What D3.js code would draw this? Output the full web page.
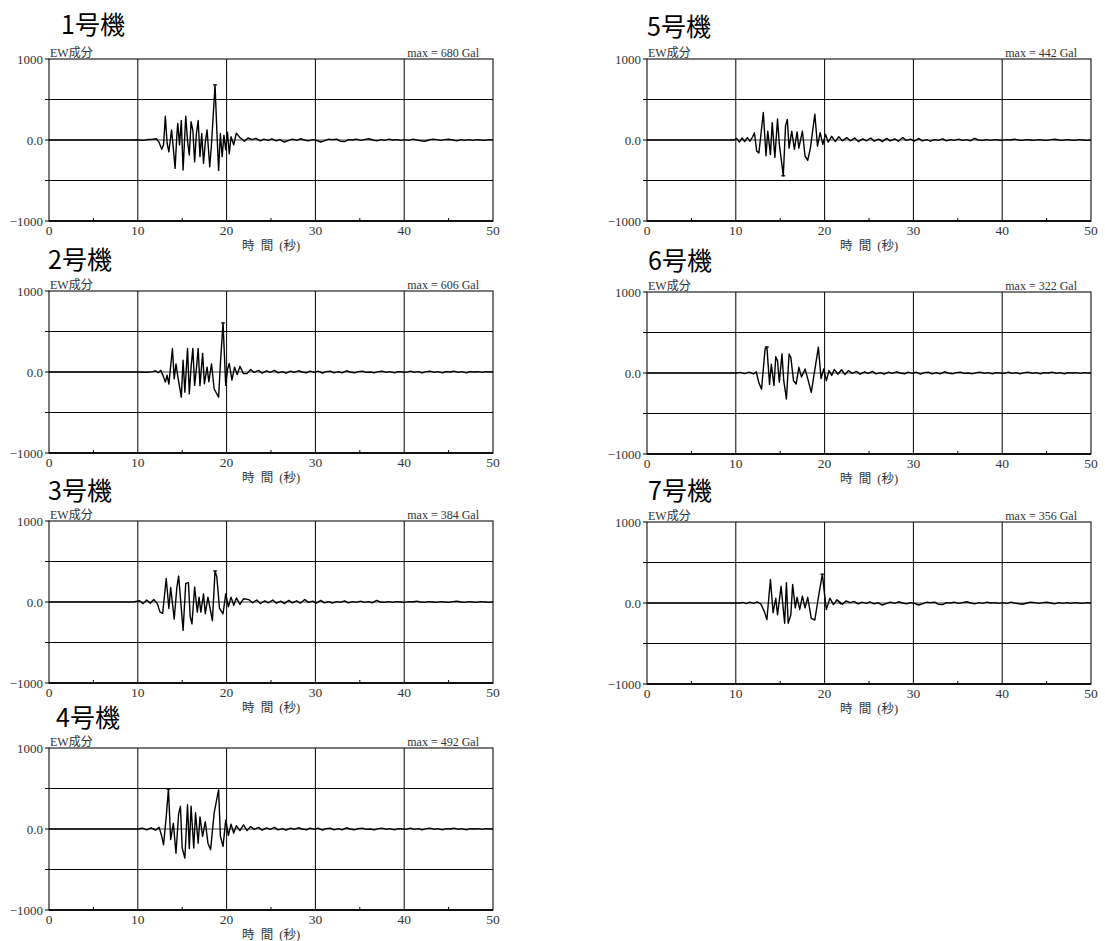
<!DOCTYPE html>
<html><head><meta charset="utf-8">
<script src="https://cdn.jsdelivr.net/npm/d3@7"></script>
<style>
body{margin:0;background:#fff;}
svg{display:block;}
</style></head>
<body><svg id="c" width="1105" height="941"></svg>
<script>
// ---- data ----
const units = ["1号機","2号機","3号機","4号機","5号機","6号機","7号機"];
const maxGal = [680, 606, 384, 492, 442, 322, 356];
const component = "EW成分";
const xTicks = [0, 10, 20, 30, 40, 50];
const xMinorTicks = [5, 15, 25, 35, 45];
const yTicks = [1000, 0, -1000];
const yTickLabels = ["1000", "0.0", "−1000"];
const yGrid = [500, 0, -500];
const xLabel = "時 間 (秒)";

const tailA = [[21.5,30],[22,-15],[22.4,25],[22.9,5],[23.3,20],[23.8,-10],[24.2,10],[24.7,-5],[25.1,15],[25.6,-10],[26,5],[26.5,-25],[27,-5],[27.4,10],[27.9,-5],[28.3,15],[28.8,0],[29.2,-10],[29.7,5],[30.1,-5],[30.6,-25],[31,-10],[31.5,10],[31.9,5],[32.4,10],[32.8,-15],[33.3,-20],[33.7,5],[34.2,0],[34.6,10],[35.1,-5],[35.5,5],[36,15],[36.5,0],[36.9,-10],[37.4,5],[37.8,-5],[38.3,10],[38.7,0],[39.2,5],[39.6,-5],[40.1,5],[40.5,-5],[41,10],[41.4,0],[41.9,-10],[42.3,-15],[42.8,0],[43.2,10],[43.7,5],[44.1,-5],[44.6,5],[45,10],[45.5,0],[45.9,-10],[46.4,5],[46.8,-5],[47.3,5],[47.7,-5],[48.2,5],[48.6,0],[49.1,-5],[49.5,5],[50,0]];
const tailB = [[22.3,-20],[22.7,30],[23.1,-5],[23.6,20],[24,-15],[24.5,15],[24.9,-5],[25.4,20],[25.8,-10],[26.3,5],[26.7,-15],[27.2,10],[27.6,-5],[28.1,15],[28.5,0],[29,-10],[29.4,10],[29.9,-5],[30.3,10],[30.8,-15],[31.2,5],[31.7,10],[32.1,-10],[32.6,5],[33,-10],[33.5,15],[33.9,0],[34.4,-10],[34.8,5],[35.3,10],[35.7,-5],[36.2,0],[36.6,-10],[37.1,5],[37.5,10],[38,-5],[38.4,5],[38.9,-10],[39.3,5],[39.8,0],[40.2,-5],[40.7,10],[41.1,-5],[41.6,5],[42,-10],[42.5,5],[42.9,10],[43.4,-5],[43.8,5],[44.3,-10],[44.7,5],[45.2,0],[45.6,10],[46.1,-5],[46.5,5],[47,-10],[47.4,5],[47.9,0],[48.3,5],[48.8,-5],[49.2,5],[49.7,0],[50,0]];
const tailC = [[22.5,30],[22.9,-10],[23.4,25],[23.8,-20],[24.3,15],[24.7,-10],[25.2,25],[25.6,-15],[26.1,10],[26.5,-20],[27,20],[27.4,-10],[27.9,15],[28.3,-15],[28.8,30],[29.2,-5],[29.7,10],[30.1,-15],[30.6,20],[31,-10],[31.5,5],[31.9,-15],[32.4,5],[32.8,-5],[33.3,15],[33.7,-10],[34.2,5],[34.6,-5],[35.1,10],[35.5,-5],[36,5],[36.4,-10],[36.9,20],[37.3,0],[37.8,-5],[38.2,5],[38.7,-5],[39.1,5],[39.6,0],[40,-5],[40.5,5],[40.9,0],[41.4,10],[41.8,0],[42.3,-5],[42.7,5],[43.2,0],[43.6,-5],[44.1,5],[44.5,0],[45,-5],[45.5,5],[45.9,10],[46.4,0],[46.8,-5],[47.3,5],[47.7,0],[48.2,-5],[48.6,5],[49.1,0],[49.5,-5],[50,0]];

const wave1 = [[0,0],[9.5,0],[10,3],[10.6,-4],[11.2,6],[11.7,10],[12.1,15],[12.4,-30],[12.7,-115],[12.9,-60],[13.1,295],[13.3,-40],[13.5,-145],[13.8,125],[14.0,-100],[14.2,-350],[14.4,60],[14.5,205],[14.7,-60],[14.9,240],[15.1,-370],[15.4,295],[15.6,-10],[15.8,-185],[16.0,225],[16.2,120],[16.4,-270],[16.6,80],[16.8,240],[17.0,-205],[17.2,80],[17.4,-290],[17.6,-30],[17.8,125],[18.1,-330],[18.3,-50],[18.7,680],[18.9,120],[19.1,-375],[19.3,80],[19.5,-205],[19.7,60],[19.9,-120],[20.1,95],[20.3,-170],[20.5,40],[20.8,-60],[21.1,85]].concat(tailA);
const wave2 = [[0,0],[10,0],[11,-3],[11.7,5],[12.0,15],[12.3,-10],[12.6,20],[12.9,-60],[13.1,-125],[13.3,-40],[13.5,-150],[13.9,290],[14.1,-85],[14.3,100],[14.5,-50],[14.9,-310],[15.1,145],[15.3,-250],[15.6,290],[15.8,-270],[16.0,60],[16.2,290],[16.4,-165],[16.6,40],[16.8,290],[17.0,-170],[17.3,230],[17.5,-145],[17.8,60],[18.0,-120],[18.3,100],[18.6,-210],[19.1,-310],[19.3,100],[19.6,606],[19.9,-165],[20.1,30],[20.3,105],[20.6,-100],[20.9,60],[21.2,-30],[21.5,70],[21.9,-20]].concat(tailB);
const wave3 = [[0,0],[9.5,0],[10.2,15],[10.6,-20],[11.0,25],[11.4,-15],[11.8,30],[12.2,-20],[12.5,-125],[12.8,-140],[13.2,290],[13.5,-80],[13.7,180],[14.1,-210],[14.4,180],[14.6,320],[15.1,-350],[15.4,230],[15.7,240],[15.9,-180],[16.1,-270],[16.4,185],[16.7,-125],[16.9,60],[17.1,-125],[17.4,100],[17.6,-145],[17.9,60],[18.4,-230],[18.7,384],[18.9,310],[19.2,-80],[19.6,-145],[19.9,100],[20.2,-60],[20.5,60],[20.8,-40],[21.1,50],[21.5,-30],[21.9,40]].concat(tailC);
const wave4 = [[0,0],[10,0],[10.5,10],[11,-10],[11.5,15],[12,-15],[12.4,20],[12.7,-90],[12.9,-195],[13.2,150],[13.45,492],[13.7,-130],[14.0,70],[14.3,-300],[14.6,190],[14.8,280],[15.0,-235],[15.3,-360],[15.6,300],[15.8,-240],[16.0,280],[16.3,-235],[16.5,200],[16.8,-175],[17.0,150],[17.3,-90],[17.6,90],[17.9,-175],[18.2,-255],[18.6,200],[19.1,485],[19.3,-90],[19.6,-215],[19.9,110],[20.2,-80],[20.5,60],[20.8,-50],[21.1,40],[21.5,-20],[21.9,50]].concat(tailB);
const wave5 = [[0,0],[9.8,0],[10.1,20],[10.4,-25],[10.7,25],[11.0,-20],[11.3,30],[11.6,-15],[11.9,40],[12.1,90],[12.35,-135],[12.6,-160],[13.1,340],[13.4,-195],[13.6,110],[13.9,-180],[14.1,215],[14.4,-215],[14.7,260],[14.9,-50],[15.35,-442],[15.6,175],[15.8,255],[16.0,-100],[16.3,110],[16.6,-115],[16.9,100],[17.1,-100],[17.5,110],[17.8,-200],[18.1,-250],[18.4,-100],[18.9,320],[19.2,-75],[19.5,90],[19.8,-55],[20.1,70],[20.4,-25],[20.8,45],[21.2,-20],[21.6,40],[22,-10]].concat(tailC);
const wave6 = [[0,0],[10,0],[10.5,8],[11,-8],[11.5,10],[12,-12],[12.3,15],[12.6,-120],[12.9,-200],[13.3,300],[13.5,322],[13.8,-140],[14.0,110],[14.3,-155],[14.5,200],[14.7,150],[14.9,-115],[15.2,235],[15.4,-95],[15.7,-320],[16.0,235],[16.2,190],[16.5,-95],[16.8,-135],[17.1,70],[17.4,-50],[17.8,50],[18.1,-70],[18.5,-240],[19.3,320],[19.6,-70],[19.9,50],[20.2,-95],[20.5,30],[20.8,-30],[21.1,45],[21.5,-15],[21.9,40]].concat(tailB);
const wave7 = [[0,0],[10.5,0],[10.8,8],[11.2,-8],[11.6,10],[12,-5],[12.4,15],[12.8,-10],[13.2,-100],[13.5,-205],[13.9,290],[14.2,-120],[14.5,60],[14.7,-145],[15.1,205],[15.5,-250],[15.7,250],[15.9,-250],[16.2,-145],[16.4,230],[16.7,-60],[16.9,70],[17.2,-80],[17.5,85],[17.8,-60],[18.1,70],[18.5,-190],[18.9,-210],[19.3,70],[19.75,356],[20.0,100],[20.2,-80],[20.6,60],[21.0,-20],[21.4,40],[21.8,-10]].concat(tailA);
const waves = [wave1, wave2, wave3, wave4, wave5, wave6, wave7];

// ---- layout ----
const W = 444, H = 162;
const layout = [
  {x:49,  y:59,  tx:61,  ty:34},
  {x:49,  y:291, tx:48,  ty:269},
  {x:49,  y:521, tx:48,  ty:500},
  {x:49,  y:748, tx:56,  ty:727},
  {x:647, y:59,  tx:647, ty:36},
  {x:647, y:292, tx:648, ty:270},
  {x:647, y:522, tx:648, ty:500}
];
const serif = "'Liberation Serif','Noto Sans CJK JP',serif";
const svg = d3.select("#c");

units.forEach((u, i) => {
  const L = layout[i];
  const x = d3.scaleLinear().domain([0, 50]).range([0, W]);
  const y = d3.scaleLinear().domain([-1000, 1000]).range([H, 0]);
  const g = svg.append("g").attr("transform", `translate(${L.x},${L.y})`);

  // title
  svg.append("text").attr("x", L.tx).attr("y", L.ty)
    .attr("font-family", "'Noto Sans CJK JP','Noto Sans',sans-serif")
    .attr("font-size", 25).attr("fill", "#000").text(u);

  // grid
  g.selectAll(".vg").data(xTicks.slice(1, -1)).join("line")
    .attr("x1", d => x(d)).attr("x2", d => x(d)).attr("y1", 0).attr("y2", H)
    .attr("stroke", "#000").attr("stroke-width", 1);
  g.selectAll(".hg").data(yGrid).join("line")
    .attr("x1", 0).attr("x2", W).attr("y1", d => y(d)).attr("y2", d => y(d))
    .attr("stroke", d => d === 0 ? "#444" : "#000").attr("stroke-width", 1);

  // frame
  g.append("rect").attr("x", 0).attr("y", 0).attr("width", W).attr("height", H)
    .attr("fill", "none").attr("stroke", "#222").attr("stroke-width", 1.2);
  g.append("line").attr("x1", 0).attr("x2", W).attr("y1", H).attr("y2", H)
    .attr("stroke", "#111").attr("stroke-width", 2);

  // minor ticks on bottom axis
  g.selectAll(".mt").data(xMinorTicks).join("line")
    .attr("x1", d => x(d)).attr("x2", d => x(d)).attr("y1", H).attr("y2", H - 3)
    .attr("stroke", "#000").attr("stroke-width", 1);
  // left ticks
  g.selectAll(".lt").data(yTicks.concat(yGrid.filter(d => d !== 0))).join("line")
    .attr("x1", -4).attr("x2", 0).attr("y1", d => y(d)).attr("y2", d => y(d))
    .attr("stroke", "#000").attr("stroke-width", 1);

  // waveform
  const line = d3.line().x(d => x(d[0])).y(d => y(d[1]));
  g.append("path").datum(waves[i]).attr("d", line)
    .attr("fill", "none").attr("stroke", "#000").attr("stroke-width", 1.4)
    .attr("stroke-linejoin", "round");

  // peak marker
  const pk = waves[i].reduce((a, b) => Math.abs(b[1]) > Math.abs(a[1]) ? b : a);
  g.append("line").attr("x1", x(pk[0]) - 2).attr("x2", x(pk[0]) + 2)
    .attr("y1", y(pk[1])).attr("y2", y(pk[1])).attr("stroke", "#000").attr("stroke-width", 1.2);

  // y labels
  g.selectAll(".yl").data(yTicks).join("text")
    .attr("x", -6).attr("y", d => y(d) + 4.5).attr("text-anchor", "end")
    .attr("font-family", serif).attr("font-size", 13).attr("fill", "#333")
    .text((d, k) => yTickLabels[k]);
  // x labels
  g.selectAll(".xl").data(xTicks).join("text")
    .attr("x", d => x(d)).attr("y", H + 14).attr("text-anchor", "middle")
    .attr("font-family", serif).attr("font-size", 13.5).attr("fill", "#333")
    .text(d => d);
  g.append("text").attr("x", 193).attr("y", H + 29)
    .attr("font-family", serif).attr("font-size", 12.5).attr("fill", "#333")
    .attr("word-spacing", 3).text(xLabel);

  // header texts
  g.append("text").attr("x", 1).attr("y", -2.5)
    .attr("font-family", serif).attr("font-size", 12).attr("fill", "#333").text(component);
  g.append("text").attr("x", W - 14).attr("y", -2.5).attr("text-anchor", "end")
    .attr("font-family", serif).attr("font-size", 12).attr("fill", "#333")
    .text(`max = ${maxGal[i]} Gal`);
});
</script></body></html>
